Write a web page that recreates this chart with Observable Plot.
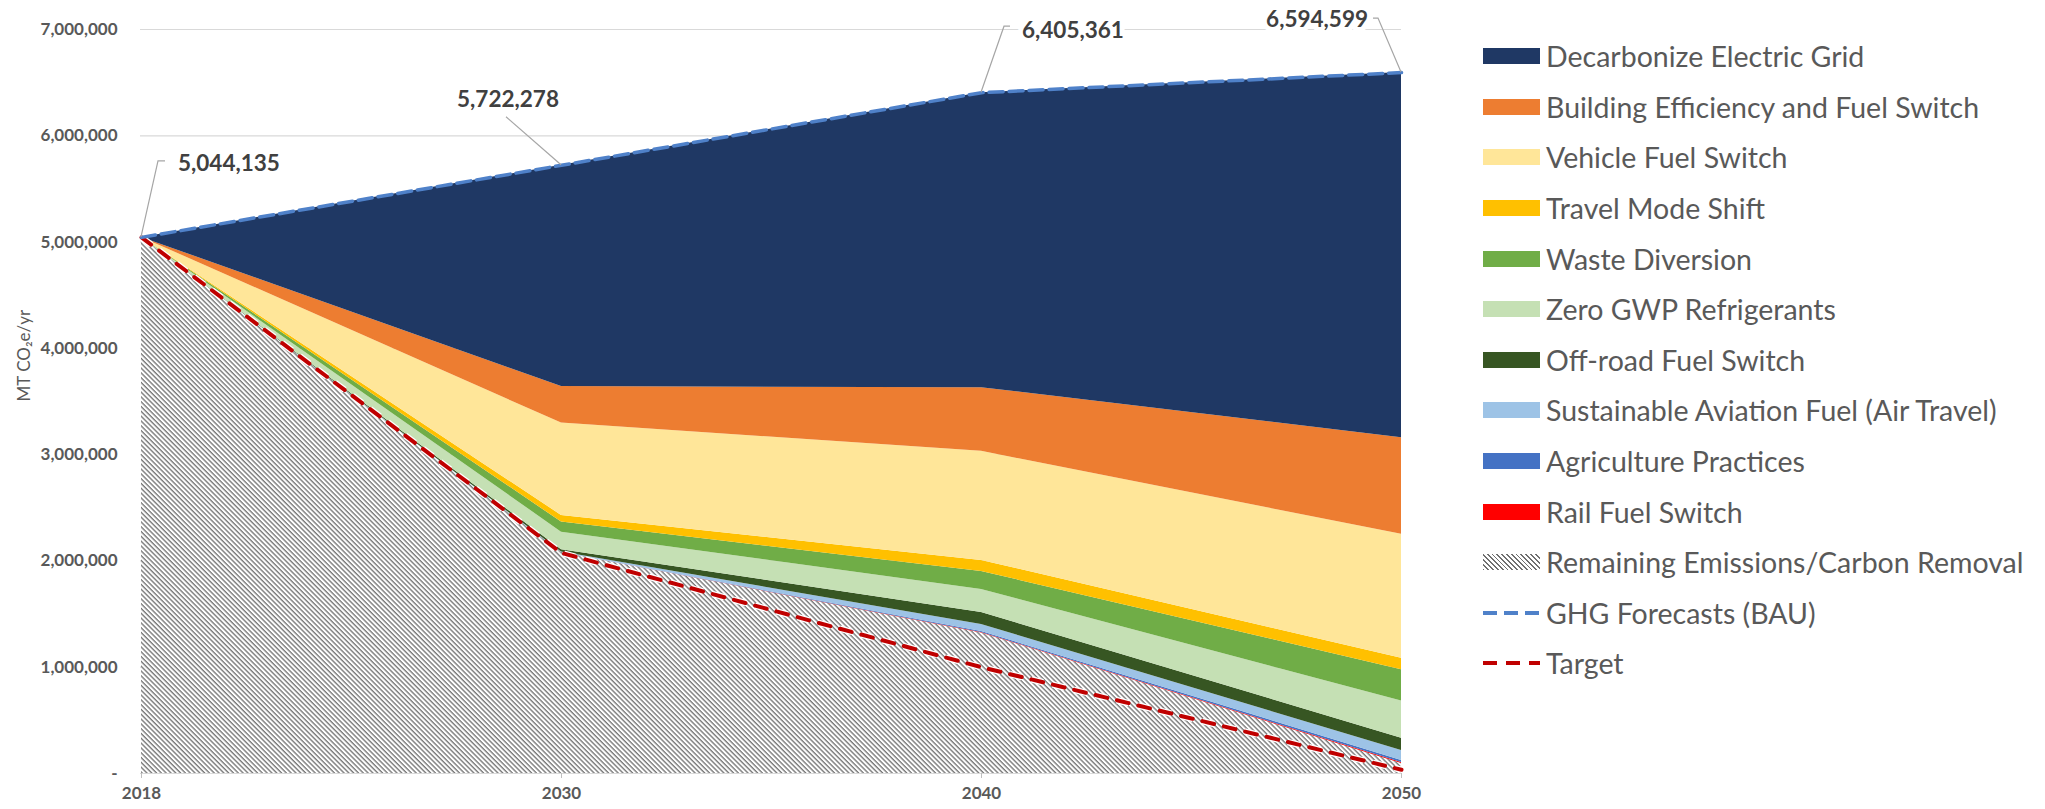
<!DOCTYPE html>
<html>
<head>
<meta charset="utf-8">
<script src="https://cdn.jsdelivr.net/npm/d3@7"></script>
<script src="https://cdn.jsdelivr.net/npm/@observablehq/plot@0.6"></script>
<style>
  body { margin: 0; background: #fff; font-family: Lato, sans-serif; }
  #wrap { display: flex; align-items: flex-start; }
  #legend { padding-left: 62px; padding-top: 31px; }
  .row { display: flex; align-items: center; height: 50.6px; }
  .sw { width: 57px; height: 16px; margin-right: 6px; flex: none; }
  .row span { font-size: 28.5px; color: #595959; white-space: nowrap; }
</style>
</head>
<body>
<div id="wrap"><div id="chart"></div><div id="legend"></div></div>
<script>
// ---- data ----
const years = ["2018", "2030", "2040", "2050"];
const yTicks = [0, 1000000, 2000000, 3000000, 4000000, 5000000, 6000000, 7000000];
const yTitle = "MT CO₂e/yr";

const bau          = [5044135, 5722278, 6405361, 6594599];
const target       = [5044135, 2075000, 1000000, 35000];

const remaining    = [5044135, 2080000, 1322000,   95000];
const rail         = [0,            0,    5000,    8000];
const agriculture  = [0,            0,   10000,   19000];
const aviation     = [0,         5000,   65000,   94000];
const offroad      = [0,        20000,  113000,  116000];
const refrigerants = [0,       166000,  217000,  349000];
const waste        = [0,        95000,  169000,  295000];
const travel       = [0,        62000,  104000,  109000];
const vehicle      = [0,       869000, 1026000, 1165000];
const building     = [0,       343000,  599000,  910000];
const grid         = [0,      2082000, 2775000, 3435000];

// stacking order, bottom first
const seriesNames = [
  "Remaining Emissions/Carbon Removal",
  "Rail Fuel Switch",
  "Agriculture Practices",
  "Sustainable Aviation Fuel (Air Travel)",
  "Off-road Fuel Switch",
  "Zero GWP Refrigerants",
  "Waste Diversion",
  "Travel Mode Shift",
  "Vehicle Fuel Switch",
  "Building Efficiency and Fuel Switch",
  "Decarbonize Electric Grid"
];
const seriesValues = [remaining, rail, agriculture, aviation, offroad, refrigerants, waste, travel, vehicle, building, grid];
const seriesColors = [
  "url(#hatch)", "#FF0000", "#4472C4", "#9DC3E6", "#375623", "#C5E0B4",
  "#70AD47", "#FFC000", "#FFE699", "#ED7D31", "#1F3864"
];
const bauName = "GHG Forecasts (BAU)";
const targetName = "Target";
const bauColor = "#4F81C9";
const targetColor = "#C00000";

// ---- tables ----
const table = [];
seriesNames.forEach((name, i) =>
  years.forEach((yr, j) => table.push({year: yr, series: name, value: seriesValues[i][j]})));
const bauRows = years.map((yr, i) => ({year: yr, value: bau[i]}));
const targetRows = years.map((yr, i) => ({year: yr, value: target[i]}));

// label leader layout: pixel offsets relative to each BAU point
const labelLayout = [
  {path: [[0, 0], [17, -76], [24, -76]], dx: 37, dy: -74, anchor: "start"},
  {path: [[0, 0], [-55, -48]], dx: -53, dy: -66, anchor: "middle"},
  {path: [[0, 0], [23, -66], [29, -66]], dx: 41, dy: -63, anchor: "start"},
  {path: [[0, 0], [-23, -54], [-28, -54]], dx: -33, dy: -54, anchor: "end"}
];

function hatchDefs() {
  const defs = d3.create("svg:defs");
  const p = defs.append("pattern")
    .attr("id", "hatch").attr("patternUnits", "userSpaceOnUse")
    .attr("width", 10).attr("height", 3.4)
    .attr("patternTransform", "rotate(45)");
  p.append("rect").attr("width", 10).attr("height", 3.4).attr("fill", "#fff");
  p.append("line").attr("x1", 0).attr("x2", 10).attr("y1", 0.7).attr("y2", 0.7)
    .attr("stroke", "#707070").attr("stroke-width", 1.3);
  return defs.node();
}

function valueLabels(index, scales) {
  const g = d3.create("svg:g");
  const fmt = d3.format(",");
  years.forEach((yr, i) => {
    const px = scales.x(yr), py = scales.y(bau[i]);
    const L = labelLayout[i];
    g.append("path")
      .attr("d", d3.line()(L.path.map(([dx, dy]) => [px + dx, py + dy])))
      .attr("fill", "none").attr("stroke", "#a6a6a6").attr("stroke-width", 1.2);
  });
  years.forEach((yr, i) => {
    const px = scales.x(yr), py = scales.y(bau[i]);
    const L = labelLayout[i];
    g.append("text")
      .attr("x", px + L.dx).attr("y", py + L.dy)
      .attr("text-anchor", L.anchor).attr("dominant-baseline", "central")
      .attr("font-family", "Lato, sans-serif").attr("font-size", 22.5).attr("font-weight", "bold")
      .attr("fill", "#404040").attr("stroke", "#fff").attr("stroke-width", 10)
      .attr("stroke-linejoin", "round").attr("paint-order", "stroke")
      .text(fmt(bau[i]));
  });
  return g.node();
}

const chart = Plot.plot({
  width: 1421,
  height: 809,
  marginLeft: 140,
  marginRight: 20,
  marginTop: 29,
  marginBottom: 36,
  style: {fontFamily: "Lato, sans-serif", background: "white", color: "#595959", overflow: "visible"},
  x: {type: "point", domain: years, padding: 0, label: null},
  y: {domain: [0, 7000000], label: null},
  color: {domain: seriesNames, range: seriesColors},
  marks: [
    hatchDefs,
    Plot.gridY(yTicks, {stroke: "#d9d9d9", strokeOpacity: 1, strokeWidth: 1.2}),
    Plot.ruleY([0], {stroke: "#d9d9d9"}),
    Plot.areaY(table, {x: "year", y: "value", z: "series", fill: "series", order: seriesNames}),
    Plot.line(targetRows, {x: "year", y: "value", stroke: "#fff", strokeWidth: 6.5, strokeDasharray: "12,10", strokeLinecap: "butt"}),
    Plot.line(targetRows, {x: "year", y: "value", stroke: targetColor, strokeWidth: 4, strokeDasharray: "12,10"}),
    Plot.line(bauRows, {x: "year", y: "value", stroke: bauColor, strokeWidth: 3.5, strokeDasharray: "14,6"}),
    Plot.axisY({ticks: yTicks, tickSize: 0, tickPadding: 23, label: null,
      tickFormat: d => d === 0 ? "-" : d3.format(",")(d),
      fontSize: 17, fontWeight: "bold", fill: "#595959"}),
    Plot.axisX({tickSize: 5, tickPadding: 8, label: null, stroke: "#bfbfbf",
      fontSize: 17, fontWeight: "bold", fill: "#595959"}),
    Plot.text([yTitle], {text: d => d, frameAnchor: "left", rotate: -90, dx: -116,
      fontSize: 17, fill: "#595959"}),
    valueLabels
  ]
});
document.getElementById("chart").appendChild(chart);

// ---- legend (top of stack first) ----
const legend = d3.select("#legend");
const legendSeries = [...seriesNames].reverse();
legendSeries.forEach(name => {
  const row = legend.append("div").attr("class", "row");
  const color = seriesColors[seriesNames.indexOf(name)];
  const sw = row.append("div").attr("class", "sw");
  if (color.startsWith("url")) {
    sw.style("background", "repeating-linear-gradient(45deg, #707070 0 1.3px, #fff 1.3px 3.4px)");
  } else {
    sw.style("background", color);
  }
  row.append("span").text(name);
});
[[bauName, bauColor, "14,7"], [targetName, targetColor, "14,9"]].forEach(([name, color, dash]) => {
  const row = legend.append("div").attr("class", "row");
  const svg = row.append("svg").attr("class", "sw").attr("width", 57).attr("height", 16);
  svg.append("line").attr("x1", 0).attr("x2", 57).attr("y1", 8).attr("y2", 8)
    .attr("stroke", color).attr("stroke-width", 4).attr("stroke-dasharray", dash);
  row.append("span").text(name);
});
</script>
</body>
</html>
